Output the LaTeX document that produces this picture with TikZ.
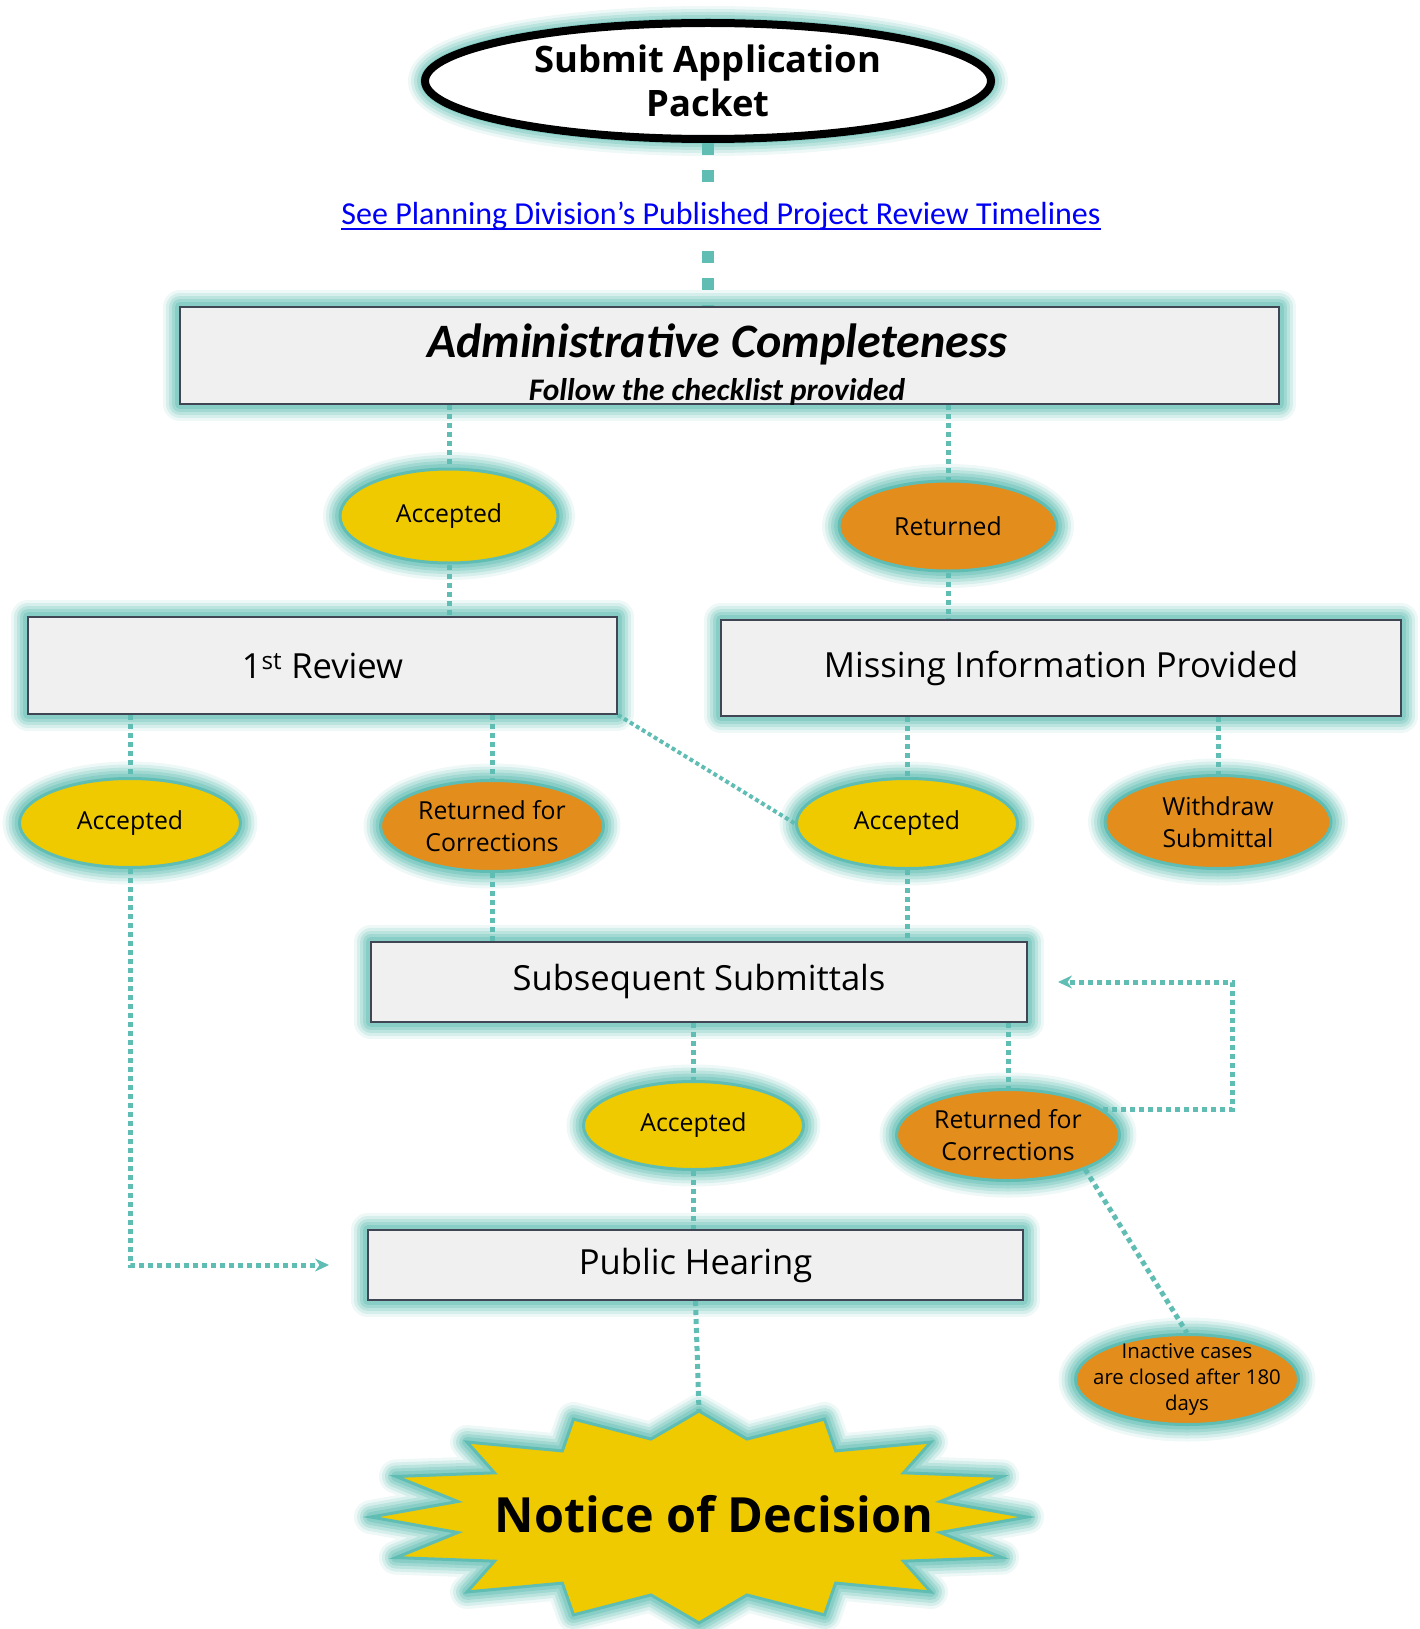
\documentclass[tikz,border=0pt]{standalone}
\usepackage{fontspec}
\setmainfont{Open Sans}
\newfontfamily\carlito{Carlito}
\usetikzlibrary{calc, positioning, arrows.meta, shapes.geometric}

\definecolor{gold}{RGB}{240,202,0}
\definecolor{amber}{RGB}{227,141,28}
\definecolor{tealline}{RGB}{95,189,179}
\definecolor{tealglow}{RGB}{110,196,186}
\definecolor{boxgray}{RGB}{240,240,240}
\definecolor{boxedge}{RGB}{64,70,84}
\definecolor{linkblue}{RGB}{0,0,245}

\begin{document}
\begin{tikzpicture}[x=1pt, y=-1pt,
  glow/.style={preaction={draw=tealglow, line width=34pt, opacity=0.12, line join=round},
               preaction={draw=tealglow, line width=28pt, opacity=0.18, line join=round},
               preaction={draw=tealglow, line width=22pt, opacity=0.25, line join=round},
               preaction={draw=tealglow, line width=16pt, opacity=0.35, line join=round},
               preaction={draw=tealglow, line width=10pt, opacity=0.5, line join=round}},
  box/.style={glow, draw=boxedge, line width=2pt, fill=boxgray, inner sep=0pt, font=\fontsize{34.6}{40}\selectfont},
  oval/.style={glow, ellipse, draw=tealline, line width=3pt, inner sep=-8pt, align=center, font=\fontsize{24.8}{32}\selectfont},
  ok/.style={oval, fill=gold},
  back/.style={oval, fill=amber},
  conn/.style={draw=tealline, line width=5pt, dash pattern=on 5pt off 4pt},
  arr/.style={conn, -{Stealth[length=14pt, width=13pt]}}
]
\useasboundingbox (0,0) rectangle (1419,1629);

\node (submit) [glow, ellipse, draw=black, line width=8pt, fill=white, inner sep=0pt, minimum width=566pt, minimum height=116pt, align=center, font=\bfseries\fontsize{36.4}{44}\selectfont] at (708,81) {Submit Application\\Packet};

\node (admin) [box, minimum width=1099pt, minimum height=97pt] at (729.5,355.5) {};
\node (admintitle) [anchor=base, font=\carlito\bfseries\itshape\fontsize{48}{50}\selectfont] at (717,357) {Administrative Completeness};
\node (adminnote) [anchor=base, font=\carlito\bfseries\itshape\fontsize{31.4}{34}\selectfont] at (717,400) {Follow the checklist provided};

\draw[draw=tealline, line width=12pt, dash pattern=on 12pt off 15pt] (submit.south) -- (submit.south |- admin.north);

\node (link) [fill=white, inner xsep=0pt, inner ysep=12pt, text=linkblue, font=\carlito\fontsize{32}{36}\selectfont] at (721,216) {See Planning Division’s Published Project Review Timelines};
\draw[linkblue, line width=2pt] ([yshift=-4pt]link.base west) -- ([yshift=-4pt]link.base east);

\node (acc1) [ok, minimum width=218pt, minimum height=94pt] at (449,516) {Accepted};
\node (ret1) [back, minimum width=218pt, minimum height=90pt] at (948,526) {Returned};

\node (review) [box, minimum width=589pt, minimum height=97pt] at (322.5,665.5) {1\textsuperscript{st} Review};
\node (missing) [box, minimum width=680pt, minimum height=96pt] at (1061,668) {Missing Information Provided};

\node (acc2) [ok, minimum width=221pt, minimum height=89pt] at (130,823) {Accepted};
\node (ret2) [back, minimum width=223pt, minimum height=91pt] at (492,826) {Returned for\\Corrections};
\node (acc3) [ok, minimum width=221pt, minimum height=90pt] at (907,823.5) {Accepted};
\node (quit) [back, minimum width=226pt, minimum height=93pt] at (1218,822) {Withdraw\\Submittal};

\node (subs) [box, minimum width=656pt, minimum height=80pt] at (699,982) {Subsequent Submittals};

\node (acc4) [ok, minimum width=220pt, minimum height=88pt] at (693.5,1125.5) {Accepted};
\node (ret4) [back, minimum width=223pt, minimum height=91pt] at (1008,1135) {Returned for\\Corrections};

\node (hearing) [box, minimum width=655pt, minimum height=70pt] at (695.5,1265) {Public Hearing};

\node (inactive) [back, minimum width=223pt, minimum height=90pt, inner xsep=-25pt, inner ysep=-15pt, font=\fontsize{20.4}{26}\selectfont] at (1187,1379.5) {Inactive cases\\are closed after 180\\days};

\draw[glow, draw=tealline, line width=3pt, fill=gold, line join=miter]
  (699,1411) \foreach \i in {1,...,31} { -- ({699+328*(1-0.25*mod(\i,2))*cos(90+11.25*\i)}, {1517-106*(1-0.25*mod(\i,2))*sin(90+11.25*\i)}) } -- cycle;
\coordinate (startop) at (699,1411);
\node (notice) [font=\bfseries\fontsize{48.5}{52}\selectfont] at (714,1514) {Notice of Decision};

\draw[conn] (acc1.north |- admin.south) -- (acc1.north);
\draw[conn] (acc1.south) -- (acc1.south |- review.north);
\draw[conn] (ret1.north |- admin.south) -- (ret1.north);
\draw[conn] (ret1.south) -- (ret1.south |- missing.north);
\draw[conn] (acc2.north |- review.south) -- (acc2.north);
\draw[conn] (ret2.north |- review.south) -- (ret2.north);
\draw[conn, line width=4pt, dash pattern=on 4pt off 3pt] (review.south east) -- (acc3.west);
\draw[conn] (acc3.north |- missing.south) -- (acc3.north);
\draw[conn] (quit.north |- missing.south) -- (quit.north);
\draw[conn] (ret2.south) -- (ret2.south |- subs.north);
\draw[conn] (acc3.south) -- (acc3.south |- subs.north);
\draw[conn] (acc4.north |- subs.south) -- (acc4.north);
\draw[conn] (ret4.north |- subs.south) -- (ret4.north);
\draw[arr] (ret4.15) -| ([xshift=204pt]subs.east) -- ([xshift=30pt]subs.east);
\draw[conn] (ret4.-24) -- (inactive.north);
\draw[conn] (acc4.south) -- (acc4.south |- hearing.north);
\draw[arr] (acc2.south) |- ([xshift=-38pt]hearing.west);
\draw[conn] (hearing.south) -- (startop);
\end{tikzpicture}
\end{document}
